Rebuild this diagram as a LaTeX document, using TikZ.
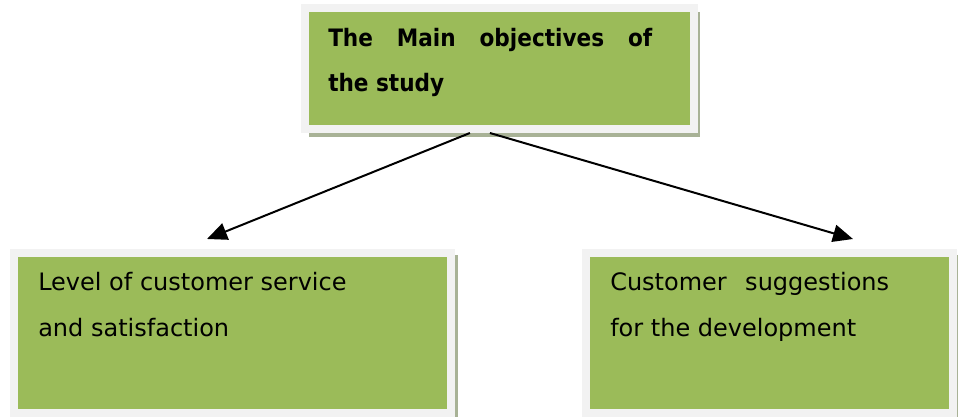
\documentclass[tikz,border=0pt]{standalone}
\usepackage{fontspec}
\setmainfont{DejaVu Sans}[BoldFeatures={FakeStretch=0.9}]
\usetikzlibrary{arrows.meta}
\definecolor{boxgreen}{HTML}{9BBB59}
\definecolor{framegray}{HTML}{F2F2F2}
\definecolor{shadowgray}{HTML}{A8B296}
\tikzset{
  box/.style={rectangle, fill=boxgreen, draw=framegray, line width=6pt, inner sep=0pt},
  txt/.style={anchor=base west, inner sep=0pt, font=\fontsize{18pt}{22pt}\selectfont},
  btxt/.style={anchor=base west, inner sep=0pt, font=\fontsize{18pt}{22pt}\selectfont\bfseries},
  arr/.style={line width=1.5pt, -{Triangle[length=15pt,width=13pt]}}
}
\begin{document}
\begin{tikzpicture}[x=0.75pt,y=-0.75pt]
\useasboundingbox (0,0) rectangle (958,417);
% shadows
\fill[shadowgray] (309,12) rectangle (700,137);
\fill[shadowgray] (20,255) rectangle (458,417);
\fill[shadowgray] (592,255) rectangle (958,417);
% boxes
\node[box, minimum width=291.4pt, minimum height=90.75pt] (top) at (499.25,68.5) {};
\node[box, minimum width=328.1pt, minimum height=120pt] (left) at (232.75,333) {};
\node[box, minimum width=275pt, minimum height=120pt] (right) at (769.75,333) {};
% texts
\node[btxt] (t1) at (328,47) {\makebox[243pt][s]{The Main objectives of}};
\node[btxt] (t2) at (328,92) {the study};
\node[txt] (l1) at (38,291) {Level of customer service};
\node[txt] (l2) at (38,337) {and satisfaction};
\node[txt] (r1) at (610,291) {Customer\hspace{0.45em} suggestions};
\node[txt] (r2) at (610,337) {for the development};
% arrows
\coordinate (tipL) at (207,239);
\coordinate (tipR) at (853,239);
\draw[arr] ([xshift=-22pt]top.south) -- (tipL);
\draw[arr] ([xshift=-7pt]top.south) -- (tipR);
\end{tikzpicture}
\end{document}
